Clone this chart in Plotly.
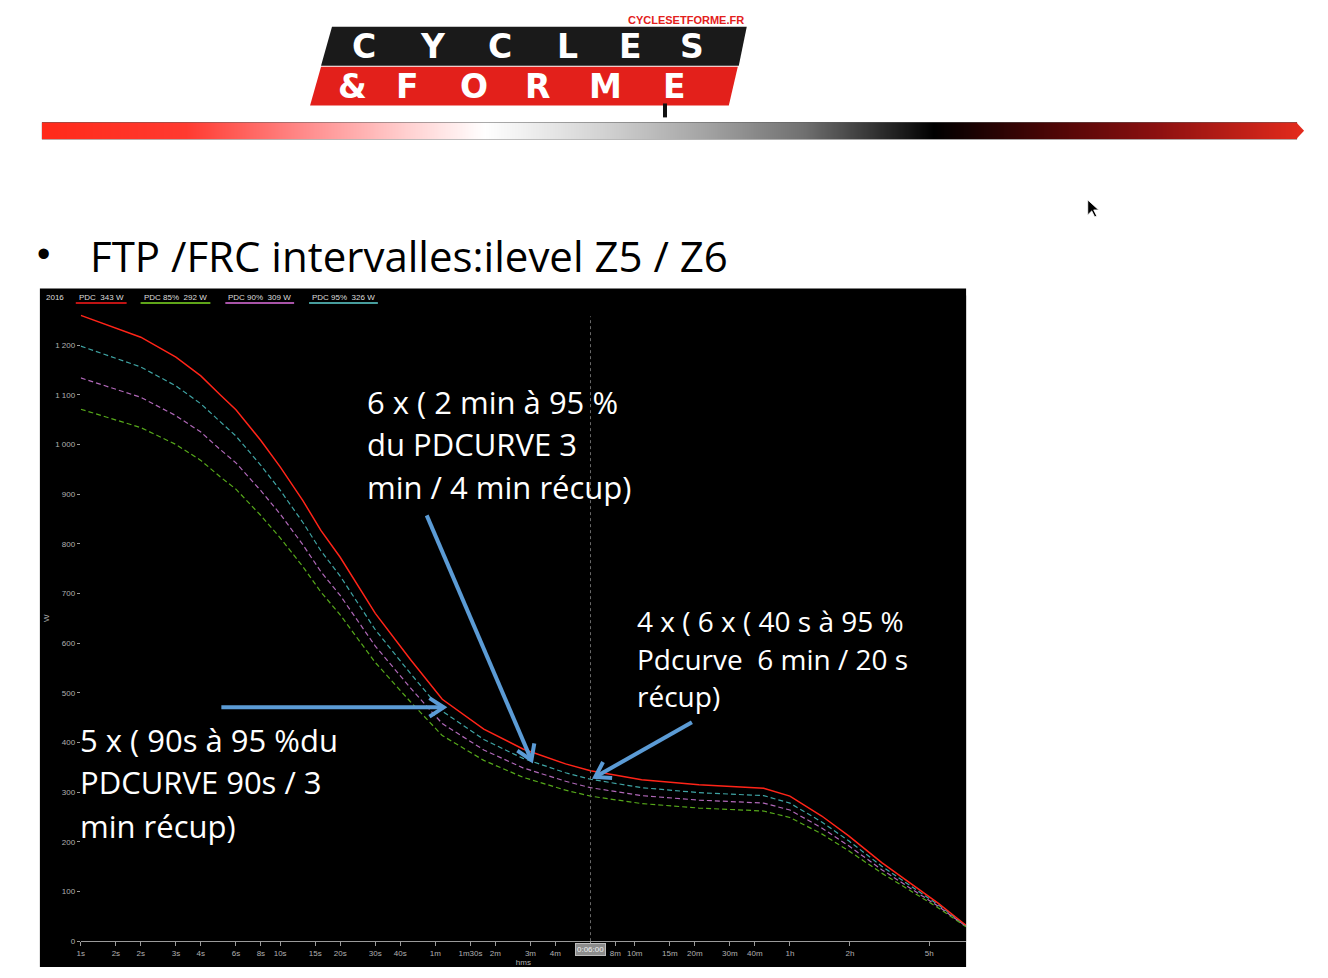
import math
import plotly.graph_objects as go

W_PX, H_PX = 1328, 978

# ---------------- data ----------------
durations_s = [1, 2, 3, 4, 5, 6, 8, 10, 13, 16, 20, 24, 30, 45, 65, 105, 165, 270, 360,
               650, 1260, 2660, 3600, 5200, 7100, 10400, 15100, 20000, 27500]
pdc = [1260, 1216, 1176, 1138, 1100, 1070, 1008, 955, 887, 827, 773, 722, 660, 567, 487,
       427, 387, 357, 343, 325, 315, 308, 292, 252, 212, 158, 112, 76, 32]
pdc95 = [1198, 1156, 1118, 1082, 1046, 1017, 958, 908, 843, 786, 735, 686, 627, 539, 463,
         406, 368, 339, 326, 309, 299, 293, 278, 240, 202, 151, 107, 73, 31]
pdc90 = [1134, 1095, 1058, 1025, 990, 963, 907, 860, 798, 744, 696, 650, 594, 510, 438,
         385, 349, 322, 309, 293, 284, 278, 264, 228, 192, 144, 102, 70, 30]
pdc85 = [1071, 1034, 1000, 968, 935, 910, 857, 812, 754, 703, 657, 614, 561, 482, 414,
         364, 330, 304, 292, 277, 268, 262, 249, 216, 182, 137, 97, 67, 29]

legend_names = ["PDC  343 W", "PDC 85%  292 W", "PDC 90%  309 W", "PDC 95%  326 W"]
legend_year = "2016"
cursor_s = 360
cursor_label = "0:06:00"

x_tickvals = [1, 1.5, 2, 3, 4, 6, 8, 10, 15, 20, 30, 40, 60, 90, 120, 180, 240, 360,
              480, 600, 900, 1200, 1800, 2400, 3600, 7200, 18000]
x_ticktext = ["1s", "2s", "2s", "3s", "4s", "6s", "8s", "10s", "15s", "20s", "30s", "40s",
              "1m", "1m30s", "2m", "3m", "4m", "", "8m", "10m", "15m", "20m", "30m", "40m",
              "1h", "2h", "5h"]
y_tickvals = [0, 100, 200, 300, 400, 500, 600, 700, 800, 900, 1000, 1100, 1200]
y_ticktext = ["0", "100", "200", "300", "400", "500", "600", "700", "800", "900",
              "1 000", "1 100", "1 200"]

title_text = "FTP /FRC intervalles:ilevel Z5 / Z6"
block_a = ["6 x ( 2 min à 95 %", "du PDCURVE 3", "min / 4 min récup)"]
block_b = ["4 x ( 6 x ( 40 s à 95 %", "Pdcurve  6 min / 20 s", "récup)"]
block_c = ["5 x ( 90s à 95 %du", "PDCURVE 90s / 3", "min récup)"]

# ---------------- helpers ----------------
def px(x):
    return x / W_PX

def py(y):
    return 1 - y / H_PX

def path_px(points, close=True):
    s = "M " + " L ".join(f"{px(x):.5f},{py(y):.5f}" for x, y in points)
    return s + (" Z" if close else "")

RED = "#ff2418"
TEAL = "#3fa4a4"
PINK = "#b068b8"
GREEN = "#56a81a"
TICK = "#b0b0b0"
CHART_FONT = "Liberation Sans"
SLIDE_FONT = "Open Sans"

fig = go.Figure()

# curves
fig.add_trace(go.Scatter(x=durations_s, y=pdc85, mode="lines",
                         line=dict(color=GREEN, width=1.2, dash="5px,3px"), hoverinfo="skip"))
fig.add_trace(go.Scatter(x=durations_s, y=pdc90, mode="lines",
                         line=dict(color=PINK, width=1.2, dash="5px,3px"), hoverinfo="skip"))
fig.add_trace(go.Scatter(x=durations_s, y=pdc95, mode="lines",
                         line=dict(color=TEAL, width=1.2, dash="5px,3px"), hoverinfo="skip"))
fig.add_trace(go.Scatter(x=durations_s, y=pdc, mode="lines",
                         line=dict(color=RED, width=1.5), hoverinfo="skip"))

# gradient bar (decoration) as a heatmap on its own axes
grad_stops = [(38, "#ff2a1a"), (180, "#ff3a30"), (300, "#ff8c8c"), (400, "#ffcfcf"),
              (480, "#ffffff"), (600, "#d2d2d2"), (700, "#a4a4a4"), (800, "#707070"),
              (930, "#000000"), (1050, "#4e0606"), (1150, "#8a1010"), (1297, "#e22a1c")]
cs = [[(x - 38) / (1297 - 38), c] for x, c in grad_stops]
ncol = 260
fig.add_trace(go.Heatmap(z=[list(range(ncol)), list(range(ncol))], colorscale=cs,
                         showscale=False, zsmooth="best", hoverinfo="skip",
                         xaxis="x2", yaxis="y2"))

shapes = []
annotations = []

# black chart background
shapes.append(dict(type="rect", xref="paper", yref="paper", x0=px(36), x1=px(965),
                   y0=py(972), y1=py(290), fillcolor="black", line=dict(width=0), layer="below"))

# cursor line at 6 min
shapes.append(dict(type="line", xref="x", yref="y", x0=cursor_s, x1=cursor_s, y0=0, y1=1258,
                   line=dict(color="#6a6a6a", width=1, dash="dot")))

# gradient arrow tip
shapes.append(dict(type="path", xref="paper", yref="paper",
                   path=path_px([(1296, 123), (1304, 131.5), (1296, 140)]),
                   fillcolor="#e22a1c", line=dict(width=0)))

# logo bands
shapes.append(dict(type="path", xref="paper", yref="paper",
                   path=path_px([(329, 27), (745, 27), (737, 66), (318, 66)]),
                   fillcolor="#1a1a1a", line=dict(width=0)))
shapes.append(dict(type="path", xref="paper", yref="paper",
                   path=path_px([(318, 67), (736, 67), (727, 106), (307, 106)]),
                   fillcolor="#e3201b", line=dict(width=0)))
shapes.append(dict(type="rect", xref="paper", yref="paper", x0=px(661), x1=px(665),
                   y0=py(118), y1=py(104), fillcolor="#111111", line=dict(width=0)))

# mouse pointer
shapes.append(dict(type="path", xref="paper", yref="paper",
                   path=path_px([(1087, 201), (1087, 216), (1091, 212), (1094, 218),
                                 (1096, 217), (1093, 211), (1098, 211)]),
                   fillcolor="black", line=dict(color="white", width=0.8)))

# legend underlines + texts
leg_x = [72, 137, 222, 306]
leg_w = [51, 70, 69, 69]
leg_c = ["#ff1a1a", "#7fdc22", "#e070e0", "#5fd2d2"]
for name, x0, w, c in zip(legend_names, leg_x, leg_w, leg_c):
    shapes.append(dict(type="line", xref="paper", yref="paper", x0=px(x0), x1=px(x0 + w),
                       y0=py(304.5), y1=py(304.5), line=dict(color=c, width=1.5)))
    annotations.append(dict(text=name, x=px(x0 + 1), y=py(299), xref="paper", yref="paper",
                            xanchor="left", yanchor="middle", showarrow=False,
                            font=dict(family=CHART_FONT, size=8, color="#dddddd")))
annotations.append(dict(text=legend_year, x=px(40), y=py(299), xref="paper", yref="paper",
                        xanchor="left", yanchor="middle", showarrow=False,
                        font=dict(family=CHART_FONT, size=8, color="#dddddd")))

# cursor label box
annotations.append(dict(text=cursor_label, x=math.log10(cursor_s), y=py(954.5), xref="x",
                        yref="paper", xanchor="center", yanchor="middle", showarrow=False,
                        bgcolor="#8c8c8c", bordercolor="#bdbdbd", borderwidth=1, borderpad=1,
                        font=dict(family=CHART_FONT, size=8, color="#f0f0f0")))

# arrows
def arrow(x0, y0, x1, y1, color="#5b9bd5", width=4, L=17, ang=33):
    dx, dy = x1 - x0, y1 - y0
    n = math.hypot(dx, dy)
    ux, uy = dx / n, dy / n
    pts = []
    for s in (1, -1):
        a = math.radians(ang * s)
        rx = ux * math.cos(a) - uy * math.sin(a)
        ry = ux * math.sin(a) + uy * math.cos(a)
        pts.append((x1 - L * rx, y1 - L * ry))
    shapes.append(dict(type="path", xref="paper", yref="paper",
                       path=path_px([(x0, y0), (x1, y1)], close=False),
                       line=dict(color=color, width=width)))
    shapes.append(dict(type="path", xref="paper", yref="paper",
                       path=path_px([pts[0], (x1, y1), pts[1]], close=False),
                       line=dict(color=color, width=width)))

arrow(218, 711, 441, 711)
arrow(424, 518, 529, 764)
arrow(690, 726, 593, 781)

# slide texts
def slide_text(lines, x, ys, size):
    for t, y in zip(lines, ys):
        annotations.append(dict(text=t, x=px(x), y=py(y), xref="paper", yref="paper",
                                xanchor="left", yanchor="middle", showarrow=False,
                                font=dict(family=SLIDE_FONT, size=size, color="white")))

slide_text(block_a, 362, [404, 446, 490], 31)
slide_text(block_b, 633, [624, 662, 700], 28)
slide_text(block_c, 74, [744, 786, 830], 31)

# title
annotations.append(dict(text="•", x=px(31), y=py(255), xref="paper", yref="paper",
                        xanchor="left", yanchor="middle", showarrow=False,
                        font=dict(family="Liberation Sans", size=38, color="black")))
annotations.append(dict(text=title_text, x=px(84), y=py(257), xref="paper", yref="paper",
                        xanchor="left", yanchor="middle", showarrow=False,
                        font=dict(family=SLIDE_FONT, size=42, color="black")))

# logo texts
annotations.append(dict(text="<b>CYCLESETFORME.FR</b>", x=px(684), y=py(20), xref="paper",
                        yref="paper", xanchor="center", yanchor="middle", showarrow=False,
                        font=dict(family="Liberation Sans", size=11, color="#e3201b")))
top_letters = [("C", 361), ("Y", 430), ("C", 497), ("L", 565), ("E", 628), ("S", 690)]
bot_letters = [("&", 350), ("F", 405), ("O", 471), ("R", 535), ("M", 603), ("E", 673)]
for ch, cx in top_letters:
    annotations.append(dict(text=f"<b>{ch}</b>", x=px(cx), y=py(46.5), xref="paper",
                            yref="paper", xanchor="center", yanchor="middle", showarrow=False,
                            font=dict(family="DejaVu Sans", size=33, color="white")))
for ch, cx in bot_letters:
    annotations.append(dict(text=f"<b>{ch}</b>", x=px(cx), y=py(87), xref="paper",
                            yref="paper", xanchor="center", yanchor="middle", showarrow=False,
                            font=dict(family="DejaVu Sans", size=33, color="white")))

fig.update_layout(
    width=W_PX, height=H_PX,
    margin=dict(l=0, r=0, t=0, b=0),
    paper_bgcolor="white", plot_bgcolor="black",
    showlegend=False,
    shapes=shapes, annotations=annotations,
    xaxis=dict(type="log", range=[0, math.log10(27540)], domain=[px(77), px(965)],
               tickvals=x_tickvals, ticktext=x_ticktext, ticks="outside", ticklen=4,
               tickcolor="#9a9a9a", showline=True, linecolor="#9a9a9a", linewidth=1,
               showgrid=False, zeroline=False,
               tickfont=dict(family=CHART_FONT, size=8, color=TICK),
               title=dict(text="hms", font=dict(family=CHART_FONT, size=8, color=TICK),
                          standoff=2)),
    yaxis=dict(range=[0, 1300], domain=[py(946), py(297)], tickvals=y_tickvals,
               ticktext=y_ticktext, ticks="outside", ticklen=3, tickcolor="#9a9a9a",
               showline=False, showgrid=False, zeroline=False,
               tickfont=dict(family=CHART_FONT, size=8, color=TICK),
               title=dict(text="W", font=dict(family=CHART_FONT, size=8, color=TICK),
                          standoff=4)),
    xaxis2=dict(domain=[px(38), px(1297)], anchor="y2", visible=False,
                range=[-0.5, ncol - 1.5], fixedrange=True),
    yaxis2=dict(domain=[py(140), py(123)], anchor="x2", visible=False,
                range=[-0.5, 1.5], fixedrange=True),
)

fig.write_html("out.html", config={"displayModeBar": False},
               post_script="document.body.style.margin='0';document.body.style.overflow='hidden';")
